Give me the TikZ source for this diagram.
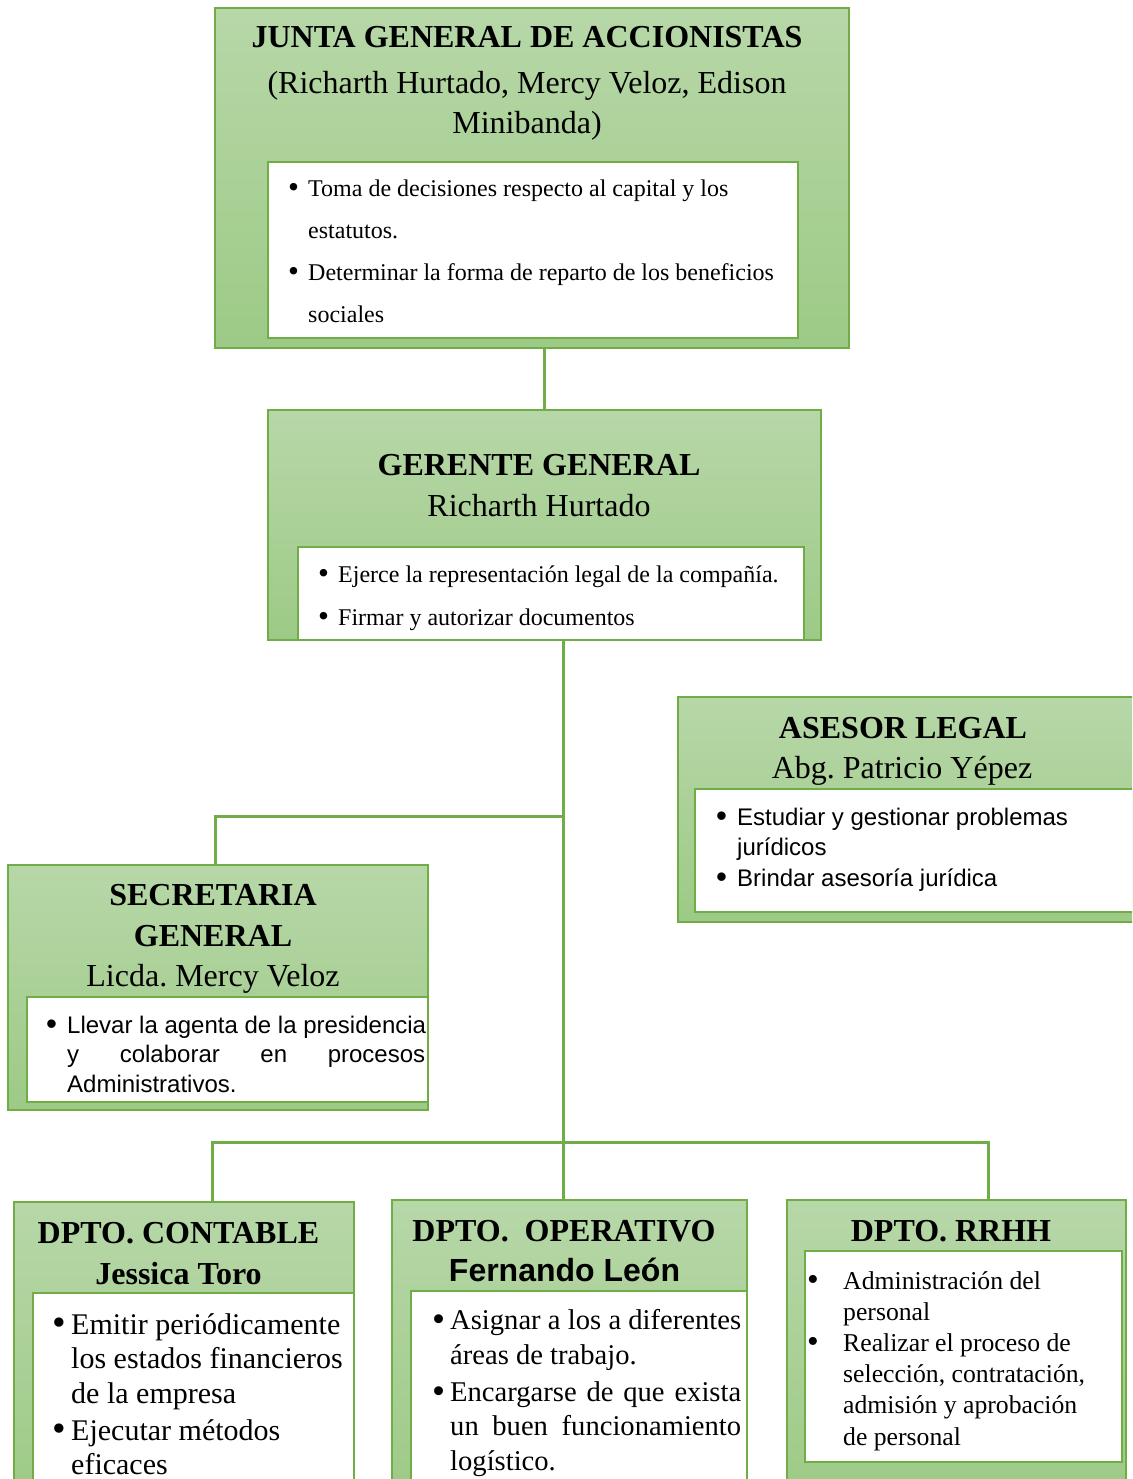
\documentclass[tikz,border=0pt]{standalone}
\usepackage{fontspec}
\setmainfont{Liberation Serif}
\newfontfamily\arialf{Liberation Sans}
\usetikzlibrary{calc}
\frenchspacing
\definecolor{gtop}{RGB}{183,215,168}
\definecolor{gbot}{RGB}{157,202,134}
\definecolor{gborder}{RGB}{112,173,71}
\newcommand{\bul}[1]{\makebox[#1][l]{\raisebox{-0.06em}{\scalebox{1.3}{•}}}}
\newcommand{\jl}[2]{\makebox[#1][s]{#2}}
\tikzset{
  obox/.style={draw=gborder, line width=1.8pt, top color=gtop, bottom color=gbot, anchor=north west, inner sep=0pt, outer sep=0pt},
  ibox/.style={draw=gborder, line width=2.4pt, fill=white, anchor=north west, inner sep=0pt, outer sep=0pt},
  conn/.style={draw=gborder, line width=3pt},
  ttl/.style={anchor=base, inner sep=0pt, align=center, font=\fontsize{32}{41}\selectfont\bfseries},
  sub/.style={anchor=base, inner sep=0pt, align=center, font=\fontsize{32}{40.5}\selectfont},
  txt/.style={anchor=base west, inner sep=0pt, align=left}
}
\begin{document}
\begin{tikzpicture}[x=1pt,y=-1pt]
\clip (0,0) rectangle (1132,1479);
\fill[white] (0,0) rectangle (1132,1479);

% ---------- boxes ----------
\node[obox, minimum width=634pt, minimum height=340pt] (junta) at (215,8) {};
\node[ibox, minimum width=530pt, minimum height=176pt] (juntain) at (268,162) {};

\node[obox, minimum width=553pt, minimum height=230pt] (ger) at (268,410) {};
\node[ibox, minimum width=506pt, minimum height=93pt] (gerin) at (298,547) {};

\node[obox, minimum width=470pt, minimum height=225pt] (ase) at (678,697) {};
\node[ibox, minimum width=460pt, minimum height=123pt] (asein) at (695,789) {};

\node[obox, minimum width=420pt, minimum height=245pt] (sec) at (8,865) {};
\node[ibox, minimum width=401pt, minimum height=105pt] (secin) at (27,997) {};

\node[obox, minimum width=340pt, minimum height=300pt] (con) at (14,1202) {};
\node[ibox, minimum width=321pt, minimum height=200pt] (conin) at (33,1293) {};

\node[obox, minimum width=355pt, minimum height=300pt] (opr) at (392,1200) {};
\node[ibox, minimum width=336pt, minimum height=200pt] (oprin) at (411,1291) {};

\node[obox, minimum width=339pt, minimum height=300pt] (rh) at (787,1200) {};
\node[ibox, minimum width=317pt, minimum height=211pt] (rhin) at (805,1251) {};

% ---------- connectors ----------
\coordinate (b1) at (563,816);
\coordinate (b2) at (563,1142);
\draw[conn] (junta.south -| ger.north) -- (ger.north);
\draw[conn] (gerin.south -| b1) -- (opr.north -| b1);
\draw[conn] (b1) -| ($(sec.north west)+(207,0)$);
\draw[conn] ($(con.north west)+(198,0)$) |- (b2) -| ($(rh.north west)+(201,0)$);

% ---------- texts (anchored at the baseline of the last line) ----------
\node[ttl] (jt) at (527,48) {JUNTA GENERAL DE ACCIONISTAS};
\node[sub] (js) at (527,134) {(Richarth Hurtado, Mercy Veloz, Edison\\Minibanda)};
\node[txt, font=\fontsize{24}{42}\selectfont] (jb) at (288,322)
  {\bul{20pt}Toma de decisiones respecto al capital y los\\
   \hspace*{20pt}estatutos.\\
   \bul{20pt}Determinar la forma de reparto de los beneficios\\
   \hspace*{20pt}sociales};

\node[ttl] (gt) at (539,475) {GERENTE GENERAL};
\node[sub] (gs) at (539,516) {Richarth Hurtado};
\node[txt, font=\fontsize{24}{43}\selectfont] (gb) at (318,625)
  {\bul{20pt}Ejerce la representación legal de la compañía.\\
   \bul{20pt}Firmar y autorizar documentos};

\node[ttl] (at) at (903,738) {ASESOR LEGAL};
\node[sub] (as) at (902,778) {Abg. Patricio Yépez};
\node[txt, font=\fontsize{24}{30.5}\selectfont\arialf] (ab) at (716,886)
  {\bul{21pt}Estudiar y gestionar problemas\\
   \hspace*{21pt}jurídicos\\
   \bul{21pt}Brindar asesoría jurídica};

\node[ttl] (st) at (213,946) {SECRETARIA\\GENERAL};
\node[sub] (ss) at (213,986) {Licda. Mercy Veloz};
\node[txt, font=\fontsize{24}{29.5}\selectfont\arialf] (sb) at (46,1092)
  {\bul{21pt}Llevar la agenta de la presidencia\\
   \hspace*{21pt}\jl{358pt}{y colaborar en procesos}\\
   \hspace*{21pt}Administrativos.};

\node[ttl] (ct) at (178.5,1284) {DPTO. CONTABLE\\Jessica Toro};
\node[txt, font=\fontsize{30}{34.5}\selectfont] (cb) at (52,1474.5)
  {\bul{19pt}Emitir periódicamente\\
   \hspace*{19pt}los estados financieros\\
   \hspace*{19pt}de la empresa\\[2.5pt]
   \bul{19pt}Ejecutar métodos\\
   \hspace*{19pt}eficaces};

\node[ttl] (ot) at (564,1241) {DPTO.\ \ OPERATIVO};
\node[ttl, font=\fontsize{32}{41}\selectfont\bfseries\arialf] (os) at (564.5,1281) {Fernando León};
\node[txt, font=\fontsize{28.6}{34.3}\selectfont] (ob) at (432,1470)
  {\bul{18pt}\jl{291pt}{Asignar a los a diferentes}\\
   \hspace*{18pt}áreas de trabajo.\\[3pt]
   \bul{18pt}\jl{291pt}{Encargarse de que exista}\\
   \hspace*{18pt}\jl{291pt}{un buen funcionamiento}\\
   \hspace*{18pt}logístico.};

\node[ttl] (rt) at (951,1241) {DPTO. RRHH};
\node[txt, font=\fontsize{25.7}{31.2}\selectfont] (rb) at (807,1445)
  {\bul{36pt}Administración del\\
   \hspace*{36pt}personal\\
   \bul{36pt}Realizar el proceso de\\
   \hspace*{36pt}selección, contratación,\\
   \hspace*{36pt}admisión y aprobación\\
   \hspace*{36pt}de personal};
\end{tikzpicture}
\end{document}
